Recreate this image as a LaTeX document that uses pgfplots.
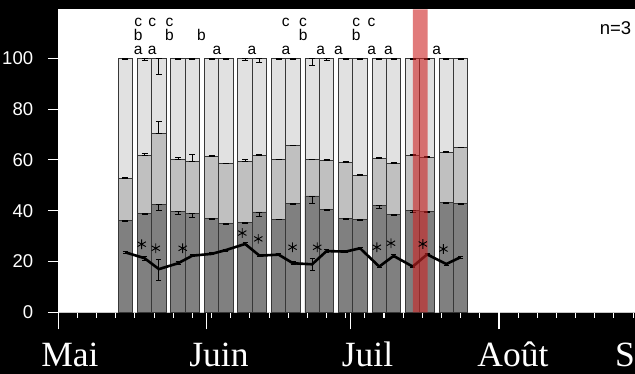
\documentclass[border=0pt]{standalone}
\usepackage{fontspec}
\setmainfont{Liberation Sans}
\newfontfamily\serif{Liberation Serif}
\usepackage{pgfplots}
\pgfplotsset{compat=1.18}
\usepackage{pgfplotstable}

\definecolor{darkg}{RGB}{128,128,128}
\definecolor{midg}{RGB}{192,192,192}
\definecolor{lightg}{RGB}{225,225,225}
\definecolor{edge}{RGB}{55,55,55}
\definecolor{bandred}{RGB}{205,35,35}

\pgfplotstableread{
x dark mid top
14 36.2 52.5 100
18 39.0 61.9 100
21 42.6 70.5 100
25 39.6 60.0 100
28 39.0 59.2 100
32 37.0 61.3 100
35 34.9 58.4 100
39 35.5 59.2 100
42 39.5 61.7 100
46 36.7 60.0 100
49 42.8 65.5 100
53 45.8 60.0 100
56 40.4 59.6 100
60 37.0 58.9 100
63 36.6 53.9 100
67 42.0 60.4 100
70 38.5 58.5 100
74 40.0 61.7 100
77 39.6 61.1 100
81 43.1 63.1 100
84 42.9 64.7 100
}\bars

\pgfplotstableread{
x y ep em
14 100 0 0.4
18 100 0 0.7
21 100 0 6.4
25 100 0 0.6
28 100 0 0.6
32 100 0 0.5
35 100 0 0.4
39 100 0 1.0
42 100 0 1.5
46 100 0 0.4
49 100 0 0.4
53 100 0 2.7
56 100 0 1.0
60 100 0 0.4
63 100 0 0.4
67 100 0 0.5
70 100 0 0.4
74 100 0 0.6
77 100 0 0.4
81 100 0 0.4
84 100 0 0.4
14 52.5 0.4 0
18 61.9 0.6 0
21 70.5 4.5 0
25 60.0 1.0 0
28 59.2 3.0 0
32 61.3 0.5 0
35 58.4 0.3 0
39 59.2 0.8 0
42 61.7 0.5 0
46 60.0 0.3 0
49 65.5 0.3 0
53 60.0 0.3 0
56 59.6 0.4 0
60 58.9 0.4 0
63 53.9 0.3 0
67 60.4 0.6 0
70 58.5 0.3 0
74 61.7 0.5 0
77 61.1 0.4 0
81 63.1 0.4 0
84 64.7 0.3 0
14 36.2 0 0.4
18 39.0 0 0.6
21 42.6 0 2.7
25 39.6 0 0.9
28 39.0 0 1.7
32 37.0 0 0.4
35 34.9 0 0.3
39 35.5 0 0.5
42 39.5 0 1.9
46 36.7 0 0.3
49 42.8 0 0.4
53 45.8 0 2.9
56 40.4 0 0.4
60 37.0 0 0.3
63 36.6 0 0.3
67 42.0 0 1.3
70 38.5 0 0.4
74 40.0 0 0.8
77 39.6 0 0.4
81 43.1 0 0.4
84 42.9 0 0.4
}\errs

\pgfplotstableread{
x y ep em
14 23.6 0.4 0.4
18 21.3 0.8 0.8
21 17.0 3.9 4.6
25 19.3 0.5 0.5
28 22.3 0.4 0.4
32 23.0 0.4 0.4
35 24.5 0.4 0.4
39 26.9 0.4 0.4
42 22.3 0.4 0.4
46 22.7 0.4 0.4
49 19.3 0.5 0.5
53 18.9 2.3 2.3
56 24.1 0.5 0.5
60 23.9 0.4 0.4
63 25.2 0.5 0.5
67 18.0 0.4 0.4
70 22.2 0.6 0.6
74 18.0 0.4 0.4
77 22.8 0.4 0.4
81 19.0 0.4 0.4
84 21.7 0.4 0.4
}\meanline

\newcommand{\lfont}{\fontsize{15.5}{16}\selectfont}
\newcommand{\la}[1]{\node[anchor=base, font=\lfont, text=black] at (axis cs:#1,101.4) {a};}
\newcommand{\lb}[1]{\node[anchor=base, font=\lfont, text=black] at (axis cs:#1,107.0) {b};}
\newcommand{\lc}[1]{\node[anchor=base, font=\lfont, text=black] at (axis cs:#1,112.6) {c};}
\newcommand{\monthlabel}[2]{\node[anchor=base, font=\serif\fontsize{35.5}{36}\selectfont, text=white] at (axis cs:#1,-21.4) {#2};}

\begin{document}
\begin{tikzpicture}
\useasboundingbox (-58.3pt,-61.7pt) rectangle (576.7pt,312.3pt);
\clip (-58.3pt,-61.7pt) rectangle (576.7pt,312.3pt);
\fill[black] (-58.3pt,-61.7pt) rectangle (576.7pt,312.3pt);
\begin{axis}[
  at={(0pt,0pt)}, anchor=south west,
  scale only axis, width=622.7pt, height=302.8pt,
  xmin=0, xmax=130, ymin=0, ymax=119.2,
  axis lines*=left,
  axis background/.style={fill=white},
  clip=false,
  xtick={4,8,...,128}, xticklabels={},
  extra x ticks={0,31,61,92,123}, extra x tick labels={},
  extra x tick style={major tick length=17pt},
  ytick=\empty,
  extra y ticks={0,20,...,100},
  extra y tick style={major tick length=10pt},
  major tick length=5.5pt,
  tick align=outside,
  tick style={draw=white, line width=1.1pt},
  x axis line style={draw=black!22, line width=1.3pt},
  y axis line style={draw=white, line width=0.6pt},
  yticklabel style={font=\fontsize{18.5}{20}\selectfont, text=white, inner sep=0pt, xshift=-15pt},
  /pgf/number format/assume math mode=true,
]
\addplot[ybar, bar width=3, bar shift=0pt, fill=lightg, draw=edge, line width=0.9pt] table[x=x, y=top] {\bars};
\addplot[ybar, bar width=3, bar shift=0pt, fill=midg, draw=edge, line width=0.9pt] table[x=x, y=mid] {\bars};
\addplot[ybar, bar width=3, bar shift=0pt, fill=darkg, draw=edge, line width=0.9pt] table[x=x, y=dark] {\bars};
\addplot[draw=none, forget plot, error bars/.cd, y dir=both, y explicit,
  error bar style={draw=black, line width=0.9pt},
  error mark options={draw=black, rotate=90, mark size=3pt, line width=0.9pt}]
  table[x=x, y=y, y error plus=ep, y error minus=em] {\errs};
\addplot[black, line width=2.6pt, line join=round, error bars/.cd, y dir=both, y explicit,
  error bar style={draw=black, line width=1pt},
  error mark options={draw=black, rotate=90, mark size=2.5pt, line width=1pt}]
  table[x=x, y=y, y error plus=ep, y error minus=em] {\meanline};
\addplot[only marks, mark=asterisk, mark size=4.8pt, black, mark options={line width=0.9pt}] coordinates {
(17.4,26.8) (20.35,25.2) (25.97,25.2) (38.4,31.2) (41.75,28.9) (48.9,25.6)
(54.05,25.6) (66.5,25.6) (69.45,27.2) (76.1,26.9) (80.4,24.9)};
\addplot[draw=none, fill=bandred, fill opacity=0.6] coordinates {(74,0) (74,119.2) (77.1,119.2) (77.1,0)} \closedcycle;
% y tick marks (axis decoration)
\draw[white, line width=1.1pt] ([xshift=-10.5pt]axis cs:0,0) -- ([xshift=-0.5pt]axis cs:0,0);
\draw[white, line width=1.1pt] ([xshift=-10.5pt]axis cs:0,20) -- ([xshift=-0.5pt]axis cs:0,20);
\draw[white, line width=1.1pt] ([xshift=-10.5pt]axis cs:0,40) -- ([xshift=-0.5pt]axis cs:0,40);
\draw[white, line width=1.1pt] ([xshift=-10.5pt]axis cs:0,60) -- ([xshift=-0.5pt]axis cs:0,60);
\draw[white, line width=1.1pt] ([xshift=-10.5pt]axis cs:0,80) -- ([xshift=-0.5pt]axis cs:0,80);
\draw[white, line width=1.1pt] ([xshift=-10.5pt]axis cs:0,100) -- ([xshift=-0.5pt]axis cs:0,100);
% letters
\lc{16.7}\lb{16.7}\la{16.7}
\lc{19.6}\la{19.6}
\lc{23.2}\lb{23.2}
\lb{29.9}
\la{33.1}
\la{40.4}
\lc{47.5}\la{47.5}
\lc{51.1}\lb{51.1}
\la{54.8}
\la{58.5}
\lc{62.2}\lb{62.2}
\lc{65.4}\la{65.4}
\la{68.9}
\la{79.0}
\node[anchor=base west, font=\fontsize{18.5}{19}\selectfont, text=black] at (axis cs:112.3,109.2) {n=3};
% months
\monthlabel{2.44}{Mai}
\monthlabel{33.55}{Juin}
\monthlabel{64.55}{Juil}
\monthlabel{94.9}{Août}
\node[anchor=base west, inner xsep=0pt, font=\serif\fontsize{35.5}{36}\selectfont, text=white] at (axis cs:116.2,-21.4) {S};
\end{axis}
\end{tikzpicture}
\end{document}
